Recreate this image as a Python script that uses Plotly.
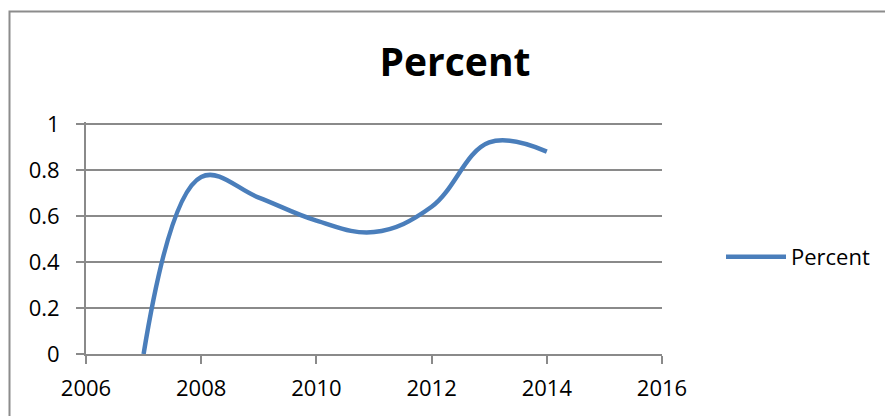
import plotly.graph_objects as go

# Yearly share values
years = [2007, 2008, 2009, 2010, 2011, 2012, 2013, 2014]
percent = [0.0, 0.77, 0.68, 0.58, 0.53, 0.64, 0.92, 0.88]

series_name = "Percent"
chart_title = "Percent"

LINE_COLOR = "#4a7ebb"
GRID_COLOR = "#8a8a8a"
FONT = "Open Sans"

W, H = 885, 416
L, R, T, B = 86, 223, 122, 62
plot_w = W - L - R
plot_h = H - T - B
px_per_unit = 230.0            # pixels between 0 and 1 on the value axis
y_top = plot_h / px_per_unit   # leave the 1.0 gridline just inside the plot area

fig = go.Figure()
fig.add_trace(go.Scatter(
    x=years, y=percent, name=series_name, mode="lines",
    line=dict(color=LINE_COLOR, width=4.5, shape="spline", smoothing=1.1),
))

# outer chart frame (only the top and left edges fall inside the page)
fx0 = (9.5 - L) / plot_w
fy1 = (H - B - 11.5) / plot_h
fig.add_shape(type="rect", xref="paper", yref="paper",
              x0=fx0, x1=2.0, y0=-1.0, y1=fy1,
              line=dict(color="#8c8c8c", width=2), layer="below")

fig.update_layout(
    width=W, height=H,
    margin=dict(l=L, r=R, t=T, b=B, autoexpand=False),
    paper_bgcolor="white", plot_bgcolor="white",
    font=dict(family=FONT, size=22, color="black"),
    title=dict(text="<b>" + chart_title + "</b>", x=455 / W, xanchor="center",
               y=1 - 62 / H, yanchor="middle",
               font=dict(family=FONT, size=39, color="black")),
    showlegend=True,
    legend=dict(x=(721 - L) / plot_w, y=(H - B - 257) / plot_h,
                xanchor="left", yanchor="middle",
                bgcolor="rgba(0,0,0,0)", itemwidth=60,
                font=dict(family=FONT, size=22, color="black")),
)

fig.update_xaxes(
    range=[2006, 2016], dtick=2, tick0=2006,
    showgrid=False, zeroline=False,
    showline=True, linecolor=GRID_COLOR, linewidth=2,
    ticks="outside", ticklen=8, tickwidth=2, tickcolor=GRID_COLOR,
    tickfont=dict(family=FONT, size=22, color="black"),
    ticklabelstandoff=6,
)
fig.update_yaxes(
    range=[0, y_top], dtick=0.2, tick0=0,
    showgrid=True, gridcolor=GRID_COLOR, gridwidth=2,
    zeroline=False,
    showline=True, linecolor=GRID_COLOR, linewidth=2,
    ticks="outside", ticklen=8, tickwidth=2, tickcolor=GRID_COLOR,
    tickfont=dict(family=FONT, size=22, color="black"),
    ticklabelstandoff=12,
)

fig.write_html("out.html")
